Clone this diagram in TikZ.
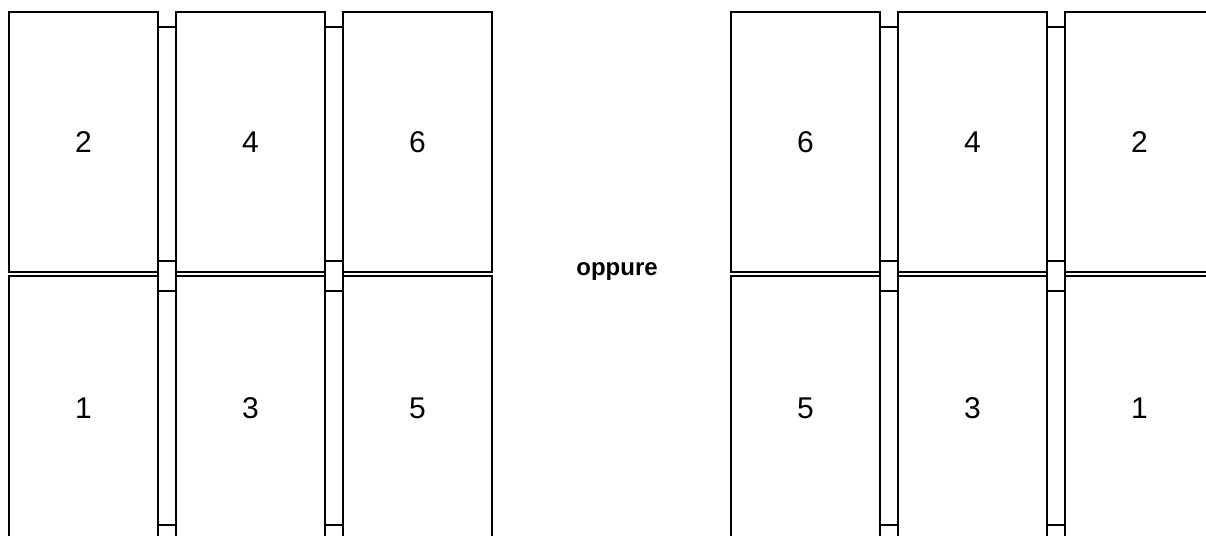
\documentclass[tikz,border=0pt]{standalone}
\usepackage{fontspec}
\setmainfont{Liberation Sans}
\begin{document}
\begin{tikzpicture}[x=1pt,y=-1pt,
  panel/.style={draw=black,line width=2.5pt,minimum width=149pt,minimum height=260pt,inner sep=0pt,font=\fontsize{30}{34}\selectfont},
  lowpanel/.style={panel,minimum height=264pt},
  hinge/.style={draw=black,line width=2.5pt},
  label/.style={font=\bfseries\fontsize{24}{28}\selectfont,inner sep=0pt}]
\clip (0,0) rectangle (1206,535);
\fill[white] (0,0) rectangle (1206,535);
% left group
\node[panel] (L2) at (83.5,142) {2};
\node[panel] (L4) at (250.5,142) {4};
\node[panel] (L6) at (417.5,142) {6};
\node[lowpanel] (L1) at (83.5,408) {1};
\node[lowpanel] (L3) at (250.5,408) {3};
\node[lowpanel] (L5) at (417.5,408) {5};
% right group
\node[panel] (R6) at (805.5,142) {6};
\node[panel] (R4) at (972.5,142) {4};
\node[panel] (R2) at (1139.5,142) {2};
\node[lowpanel] (R5) at (805.5,408) {5};
\node[lowpanel] (R3) at (972.5,408) {3};
\node[lowpanel] (R1) at (1139.5,408) {1};
% hinges
\foreach \x in {158,325,880,1047}{
  \draw[hinge] (\x,27) rectangle ++(18,234);
  \draw[hinge] (\x,261) rectangle ++(18,30);
  \draw[hinge] (\x,291) rectangle ++(18,234);
}
\node[label] (or) at (617,272) {oppure};
\end{tikzpicture}
\end{document}
